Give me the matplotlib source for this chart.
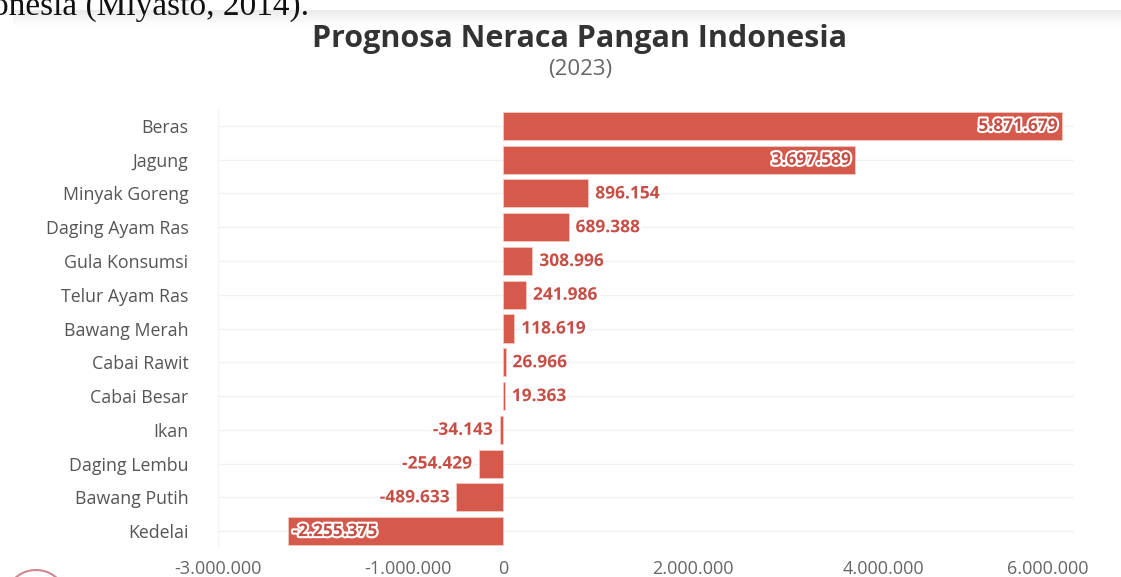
import matplotlib.pyplot as plt
import matplotlib.patheffects as pe
import matplotlib.transforms as mtransforms
from matplotlib.patches import Arc
import numpy as np

plt.rcParams['font.family'] = ['Open Sans', 'DejaVu Sans']

komoditas = ['Beras', 'Jagung', 'Minyak Goreng', 'Daging Ayam Ras', 'Gula Konsumsi',
             'Telur Ayam Ras', 'Bawang Merah', 'Cabai Rawit', 'Cabai Besar', 'Ikan',
             'Daging Lembu', 'Bawang Putih', 'Kedelai']
neraca = [5871679, 3697589, 896154, 689388, 308996, 241986, 118619, 26966, 19363,
          -34143, -254429, -489633, -2255375]
inside_labels = ['Beras', 'Jagung', 'Kedelai']
tick_values = [-3000000, -1000000, 0, 2000000, 4000000, 6000000]

BAR = '#d65a4b'
TXT = '#c64e45'


def fmt(v):
    s = f"{abs(v):,}".replace(',', '.')
    return '-' + s if v < 0 else s


W, H = 1121, 577
fig = plt.figure(figsize=(W / 100, H / 100), dpi=100)

# grey band from the page above the chart
band = fig.add_axes([13 / W, 1 - 26 / H, 1 - 13 / W, 16 / H])
band.imshow(np.linspace(0.92, 1.0, 50).reshape(-1, 1), cmap='gray', vmin=0, vmax=1,
            aspect='auto', extent=[0, 1, 0, 1])
band.axis('off')

# cut-off document text
fig.text(-8 / W, 1 - 15 / H, 'onesia (Miyasto, 2014).', family='Liberation Serif',
         fontsize=24, color='#111111', ha='left', va='baseline')

ax = fig.add_axes([217.5 / W, 1 - 548 / H, (1074 - 217.5) / W, (548 - 109) / H])
y = np.arange(len(komoditas))
ax.barh(y, neraca, height=0.83, color=BAR, edgecolor='#f2c9c2', linewidth=0.6, zorder=3)
ax.set_xlim(-3000000, 6000000)
ax.set_ylim(len(komoditas) - 0.5, -0.5)

ax.set_yticks(y)
ax.set_yticklabels(komoditas, fontsize=12.8, color='#555555')
ax.tick_params(axis='y', length=0, pad=21)
ax.set_xticks(tick_values)
ax.set_xticklabels([fmt(v) for v in tick_values], fontsize=13, color='#666666')
ax.tick_params(axis='x', length=0, pad=9)
last = ax.get_xticklabels()[-1]
last.set_transform(last.get_transform() + mtransforms.ScaledTranslation(-0.26, 0, fig.dpi_scale_trans))

for s in ax.spines.values():
    s.set_visible(False)
ax.axvline(-3000000, color='#f3f3f3', linewidth=1, zorder=0)
for yy in y:
    ax.axhline(yy, color='#f0f0f0', linewidth=1, zorder=0)

halo = [pe.withStroke(linewidth=3, foreground='white')]
for yy, name, v in zip(y, komoditas, neraca):
    if name in inside_labels:
        ha = 'right' if v > 0 else 'left'
        ax.annotate(fmt(v), (v, yy), xytext=(-3 if v > 0 else 3, 0), textcoords='offset points',
                    ha=ha, va='center', fontsize=12.5, fontweight='bold', color=TXT,
                    path_effects=halo, zorder=4)
    else:
        ha = 'left' if v > 0 else 'right'
        ax.annotate(fmt(v), (v, yy), xytext=(5 if v > 0 else -5, 0), textcoords='offset points',
                    ha=ha, va='center', fontsize=12.5, fontweight='bold', color=TXT,
                    path_effects=halo, zorder=4)

fig.text(580 / W, 1 - 39 / H, 'Prognosa Neraca Pangan Indonesia', fontsize=22,
         fontweight='bold', color='#333333', ha='center', va='center')
fig.text(580 / W, 1 - 70 / H, '(2023)', fontsize=16, color='#666666', ha='center', va='center')

# red circle edge at bottom-left
arc = Arc((36 / W, -24 / H), 62 / W, 62 / H, theta1=55, theta2=175,
          transform=fig.transFigure, color='#d08890', linewidth=1.5)
fig.add_artist(arc)

fig.savefig('out.png', dpi=100)
